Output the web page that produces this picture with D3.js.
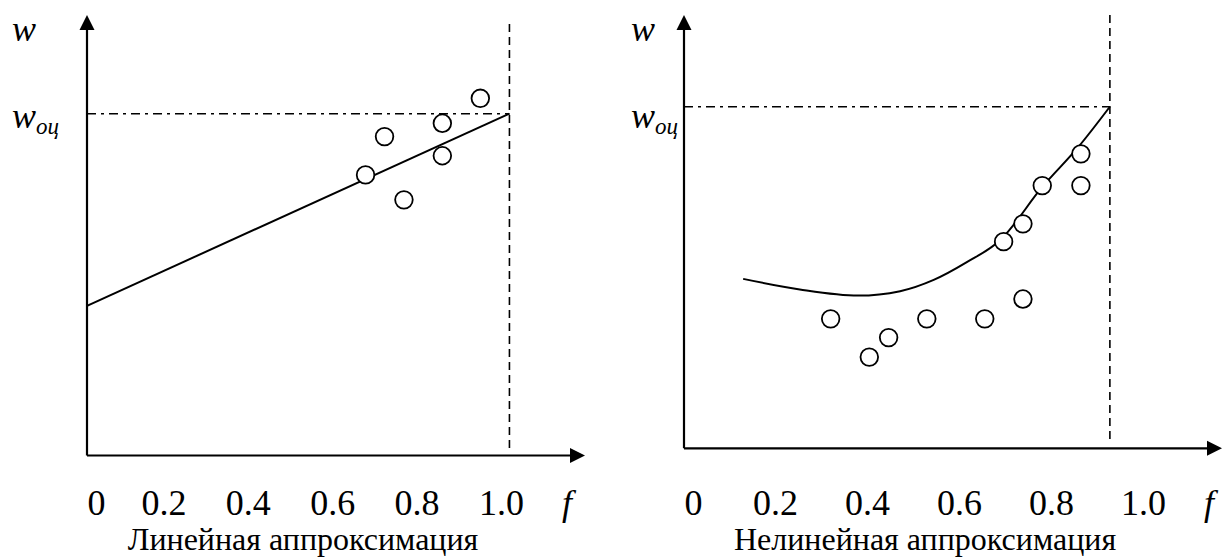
<!DOCTYPE html>
<html>
<head>
<meta charset="utf-8">
<script src="https://cdn.jsdelivr.net/npm/d3@7"></script>
<style>
  body { margin: 0; background: #fff; }
  svg { display: block; font-family: "Liberation Serif", "Times New Roman", serif; }
</style>
</head>
<body>
<div class="container"></div>
<script>
// f axis labels (same under both charts)
const tickValues = [0, 0.2, 0.4, 0.6, 0.8, 1.0]
const tickLabels = ["0", "0.2", "0.4", "0.6", "0.8", "1.0"]

// left: linear approximation (w is relative to w_oc)
const linF = [0.679, 0.724, 0.770, 0.861, 0.861, 0.951]
const linW = [0.821, 0.933, 0.748, 0.972, 0.877, 1.045]
const linLineF = [0, 1.02]
const linLineW = [0.438, 1.0]
const linLimitF = 1.02

// right: nonlinear approximation
const nonF = [0.321, 0.405, 0.447, 0.530, 0.656, 0.697, 0.739, 0.739, 0.781, 0.865, 0.865]
const nonW = [0.379, 0.267, 0.324, 0.379, 0.379, 0.605, 0.437, 0.657, 0.769, 0.862, 0.769]
const nonCurveF = [0.130, 0.254, 0.381, 0.472, 0.545, 0.617, 0.690, 0.781, 0.860, 0.928]
const nonCurveW = [0.496, 0.465, 0.447, 0.460, 0.493, 0.545, 0.610, 0.765, 0.883, 1.0]
const nonLimitF = 0.928

const wOc = 1.0

const w = 1228
const h = 558

const svg = d3.select(".container")
              .append("svg")
              .attr("width", w)
              .attr("height", h)

const panels = [
  {
    x0: 87, xBreak: 163.4, xEnd: 501, arrowX: 585,
    axisY: 455.5, top: 15, wocY: 113.7,
    limitTop: 24, limitBottom: 448,
    labelX: 12, fX: 567,
    title: "Линейная аппроксимация", titleX: 303,
    pointsF: linF, pointsW: linW,
    lineF: linLineF, lineW: linLineW, curved: false,
    limitF: linLimitF
  },
  {
    x0: 684, xBreak: 775, xEnd: 1143, arrowX: 1222,
    axisY: 448.3, top: 15, wocY: 106.7,
    limitTop: 15, limitBottom: 440,
    labelX: 631, fX: 1209,
    title: "Нелинейная аппроксимация", titleX: 925,
    pointsF: nonF, pointsW: nonW,
    lineF: nonCurveF, lineW: nonCurveW, curved: true,
    limitF: nonLimitF
  }
]

const drawPanel = (p) => {
  const g = svg.append("g")

  const xScale = d3.scaleLinear()
                   .domain([0, 0.2, 1.0])
                   .range([p.x0, p.xBreak, p.xEnd])
  const yScale = d3.scaleLinear()
                   .domain([0, wOc])
                   .range([p.axisY, p.wocY])

  // dash-dot level w_oc and dashed limit f
  g.append("line")
   .attr("x1", xScale(0)).attr("x2", xScale(p.limitF))
   .attr("y1", yScale(wOc)).attr("y2", yScale(wOc))
   .attr("stroke", "#000").attr("stroke-width", 1.6)
   .attr("stroke-dasharray", "9,5,3,5")
  g.append("line")
   .attr("x1", xScale(p.limitF)).attr("x2", xScale(p.limitF))
   .attr("y1", p.limitTop).attr("y2", p.limitBottom)
   .attr("stroke", "#000").attr("stroke-width", 1.6)
   .attr("stroke-dasharray", "8,5")

  // axes with arrows
  g.append("line")
   .attr("x1", xScale(0)).attr("x2", xScale(0))
   .attr("y1", yScale(0)).attr("y2", p.top + 12)
   .attr("stroke", "#000").attr("stroke-width", 2.2)
  g.append("line")
   .attr("x1", xScale(0)).attr("x2", p.arrowX - 12)
   .attr("y1", yScale(0)).attr("y2", yScale(0))
   .attr("stroke", "#000").attr("stroke-width", 2.2)
  g.append("path")
   .attr("d", `M${xScale(0)},${p.top} l-7.5,15 l15,0 z`)
   .attr("fill", "#000")
  g.append("path")
   .attr("d", `M${p.arrowX},${yScale(0)} l-15,-7.5 l0,15 z`)
   .attr("fill", "#000")

  // approximation line / curve
  const pts = p.lineF.map((f, i) => [f, p.lineW[i]])
  const line = d3.line()
                 .x(d => xScale(d[0]))
                 .y(d => yScale(d[1]))
  if (p.curved) line.curve(d3.curveMonotoneX)
  g.append("path")
   .datum(pts)
   .attr("d", line)
   .attr("fill", "none")
   .attr("stroke", "#000")
   .attr("stroke-width", 2)

  // observations
  g.selectAll("circle")
   .data(p.pointsF.map((f, i) => [f, p.pointsW[i]]))
   .enter()
   .append("circle")
   .attr("cx", d => xScale(d[0]))
   .attr("cy", d => yScale(d[1]))
   .attr("r", 8.8)
   .attr("fill", "#fff")
   .attr("stroke", "#000")
   .attr("stroke-width", 1.8)

  // f tick labels
  const xAxis = d3.axisBottom(xScale)
                  .tickValues(tickValues)
                  .tickSize(0)
                  .tickPadding(0)
                  .tickFormat((d, i) => tickLabels[i])
  const ax = g.append("g")
              .attr("transform", "translate(0,515)")
              .call(xAxis)
  ax.select(".domain").remove()
  ax.selectAll("text")
    .attr("y", 0)
    .attr("dy", null)
    .attr("text-anchor", d => d === 0 ? "start" : "middle")
    .style("font-family", "\"Liberation Serif\", \"Times New Roman\", serif")
    .style("font-size", "36px")
    .attr("fill", "#000")

  g.append("text")
   .attr("x", p.fX).attr("y", 515)
   .attr("text-anchor", "middle")
   .style("font-size", "36px")
   .style("font-style", "italic")
   .text("f")

  g.append("text")
   .attr("x", p.titleX).attr("y", 550)
   .attr("text-anchor", "middle")
   .style("font-size", "32px")
   .text(p.title)

  // w labels
  g.append("text")
   .attr("x", p.labelX).attr("y", 41)
   .style("font-size", "36px")
   .style("font-style", "italic")
   .text("w")
  const woc = g.append("text")
               .attr("x", p.labelX).attr("y", 128)
               .style("font-size", "36px")
               .style("font-style", "italic")
  woc.append("tspan").text("w")
  woc.append("tspan").attr("dy", 6).style("font-size", "23px").text("оц")
}

panels.forEach(drawPanel)
</script>
</body>
</html>
